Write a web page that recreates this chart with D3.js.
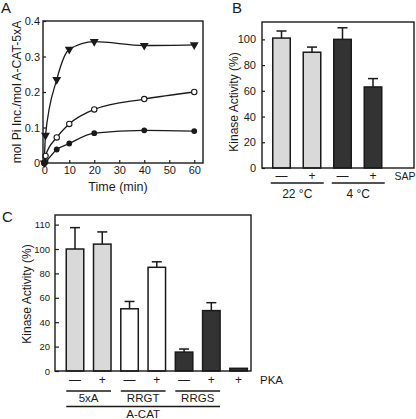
<!DOCTYPE html>
<html><head><meta charset="utf-8">
<script src="https://cdn.jsdelivr.net/npm/d3@7"></script>
<style>
html,body{margin:0;padding:0;background:#fff;}
svg{display:block;font-family:"Liberation Sans",Arial,Helvetica,sans-serif;}
</style></head>
<body>
<script>
// ---------- Panel A data ----------
const timeMin = [0, 0.5, 5, 10, 20, 40, 60];
const seriesTriangle = [0, 0.078, 0.235, 0.32, 0.342, 0.331, 0.333];
const seriesOpen = [0, 0.02, 0.072, 0.11, 0.151, 0.18, 0.2];
const seriesFilled = [0, 0.003, 0.038, 0.055, 0.084, 0.092, 0.09];
const aXTicks = [0, 10, 20, 30, 40, 50, 60];
const aYTicks = [0, 0.1, 0.2, 0.3, 0.4];
const aYTickLabels = ["0", "0.1", "0.2", "0.3", "0.4"];

// ---------- Panel B data ----------
const bCats = ["22-", "22+", "4-", "4+"];
const bValues = [101, 90, 100, 63];
const bErrors = [5.5, 4, 9, 6.5];
const bSigns = ["—", "+", "—", "+"];
const bGroups = ["22 °C", "4 °C"];
const bYTicks = [0, 20, 40, 60, 80, 100];

// ---------- Panel C data ----------
const cCats = ["5xA-", "5xA+", "RRGT-", "RRGT+", "RRGS-", "RRGS+", "none+"];
const cValues = [100, 104, 51, 85, 15.5, 49.5, 2.2];
const cErrors = [17.5, 10, 6, 4.5, 2.5, 6.5, 0];
const cSigns = ["—", "+", "—", "+", "—", "+", "+"];
const cGroups = ["5xA", "RRGT", "RRGS"];
const cYTicks = [0, 20, 40, 60, 80, 100, 120];
const cYTickLabels = ["0", "20", "40", "60", "80", "100", "110"];

const light = "#d9d9d9", dark = "#333333", ink = "#1a1a1a";

const svg = d3.select("body").append("svg").attr("width", 416).attr("height", 419);

function styleAxis(g, fs) {
  g.select(".domain").remove();
  g.selectAll(".tick line").attr("stroke", ink).attr("stroke-width", 1.2);
  g.selectAll(".tick text").attr("fill", ink).style("font-size", fs + "px").attr("font-family", null);
}

// ================= Panel A =================
{
  const L = 43, R = 203, T = 21, B = 163;
  const x = d3.scaleLinear().domain([-0.5, 63.5]).range([L, R]);
  const y = d3.scaleLinear().domain([0, 0.4]).range([B, T]);
  svg.append("text").text("A").attr("x", 1).attr("y", 13).style("font-size", "15px").attr("fill", ink);

  const gy = svg.append("g").attr("transform", `translate(${L},0)`)
    .call(d3.axisLeft(y).tickValues(aYTicks).tickSize(-3).tickPadding(3).tickFormat((d, i) => aYTickLabels[i]));
  styleAxis(gy, 11);
  const gx = svg.append("g").attr("transform", `translate(0,${B})`)
    .call(d3.axisBottom(x).tickValues(aXTicks).tickSize(-3).tickPadding(3));
  styleAxis(gx, 11);

  const line = d3.line().x((d, i) => x(timeMin[i])).y(d => y(d)).curve(d3.curveMonotoneX);
  [seriesTriangle, seriesOpen, seriesFilled].forEach(s => {
    svg.append("path").attr("d", line(s)).attr("fill", "none").attr("stroke", ink).attr("stroke-width", 1.3);
  });
  const tri = d3.symbol().type(d3.symbolTriangle).size(34);
  svg.selectAll(".tri").data(seriesTriangle).join("path")
    .attr("d", tri).attr("fill", ink)
    .attr("transform", (d, i) => `translate(${x(timeMin[i])},${y(d)}) rotate(180)`);
  svg.selectAll(".oc").data(seriesOpen).join("circle")
    .attr("cx", (d, i) => x(timeMin[i])).attr("cy", d => y(d)).attr("r", 2.7)
    .attr("fill", "#fff").attr("stroke", ink).attr("stroke-width", 1.1);
  svg.selectAll(".fc").data(seriesFilled).join("circle")
    .attr("cx", (d, i) => x(timeMin[i])).attr("cy", d => y(d)).attr("r", 2.9)
    .attr("fill", ink);

  svg.append("rect").attr("x", L).attr("y", T).attr("width", R - L).attr("height", B - T)
    .attr("fill", "none").attr("stroke", ink).attr("stroke-width", 1.4);

  svg.append("text").text("Time (min)").attr("x", 118).attr("y", 191)
    .attr("text-anchor", "middle").style("font-size", "12.5px").attr("fill", ink);
  svg.append("text").text("mol Pi Inc./mol A-CAT-5xA")
    .attr("transform", `translate(21,92) rotate(-90)`)
    .attr("text-anchor", "middle").style("font-size", "12.2px").attr("fill", ink);
}

// ================= Panel B =================
{
  const L = 262, R = 414, T = 22, B = 168;
  const x = d3.scalePoint().domain(bCats).range([281.5, 373]);
  const bw = 17.5;
  const y = d3.scaleLinear().domain([0, 113.5]).range([B, T]);
  svg.append("text").text("B").attr("x", 232).attr("y", 13).style("font-size", "15px").attr("fill", ink);

  const gy = svg.append("g").attr("transform", `translate(${L},0)`)
    .call(d3.axisLeft(y).tickValues(bYTicks).tickSize(-3).tickPadding(6));
  styleAxis(gy, 11);

  const cols = [light, light, dark, dark];
  bCats.forEach((c, i) => {
    const cx = x(c), top = y(bValues[i]), et = y(bValues[i] + bErrors[i]);
    svg.append("line").attr("x1", cx).attr("x2", cx).attr("y1", top).attr("y2", et)
      .attr("stroke", ink).attr("stroke-width", 1.5);
    svg.append("line").attr("x1", cx - 5).attr("x2", cx + 5).attr("y1", et).attr("y2", et)
      .attr("stroke", ink).attr("stroke-width", 1.5);
    svg.append("rect").attr("x", cx - bw / 2).attr("y", top).attr("width", bw).attr("height", y(0) - top)
      .attr("fill", cols[i]).attr("stroke", ink).attr("stroke-width", 1.5);
  });
  svg.append("rect").attr("x", L).attr("y", T).attr("width", R - L).attr("height", B - T)
    .attr("fill", "none").attr("stroke", ink).attr("stroke-width", 1.4);

  bCats.forEach((c, i) => {
    svg.append("text").text(bSigns[i]).attr("x", x(c)).attr("y", 179.5)
      .attr("text-anchor", "middle").style("font-size", "12px").attr("fill", ink);
  });
  svg.append("text").text("SAP").attr("x", 415.5).attr("y", 179.5).attr("text-anchor", "end")
    .style("font-size", "10.5px").attr("fill", ink);
  bGroups.forEach((g, k) => {
    const a = x(bCats[2 * k]) - bw / 2 - 2, b = x(bCats[2 * k + 1]) + bw / 2 + 3;
    svg.append("line").attr("x1", a).attr("x2", b).attr("y1", 183).attr("y2", 183)
      .attr("stroke", ink).attr("stroke-width", 1.3);
    svg.append("text").text(g).attr("x", (a + b) / 2).attr("y", 197.5)
      .attr("text-anchor", "middle").style("font-size", "12px").attr("fill", ink);
  });
  svg.append("text").text("Kinase Activity (%)")
    .attr("transform", `translate(238,102) rotate(-90)`)
    .attr("text-anchor", "middle").style("font-size", "12px").attr("fill", ink);
}

// ================= Panel C =================
{
  const L = 55, R = 251, T = 215, B = 371;
  const x = d3.scalePoint().domain(cCats).range([75, 238.6]);
  const bw = 17.5;
  const y = d3.scaleLinear().domain([0, 20]).range([B, B - 24.4]);
  svg.append("text").text("C").attr("x", 2).attr("y", 222).style("font-size", "15px").attr("fill", ink);

  const gy = svg.append("g").attr("transform", `translate(${L},0)`)
    .call(d3.axisLeft(y).tickValues(cYTicks).tickSize(-4).tickPadding(5).tickFormat((d, i) => cYTickLabels[i]));
  styleAxis(gy, 9.5);

  const cols = [light, light, "#fff", "#fff", dark, dark, dark];
  cCats.forEach((c, i) => {
    const cx = x(c), top = y(cValues[i]);
    if (cErrors[i] > 0) {
      const et = y(cValues[i] + cErrors[i]);
      svg.append("line").attr("x1", cx).attr("x2", cx).attr("y1", top).attr("y2", et)
        .attr("stroke", ink).attr("stroke-width", 1.5);
      svg.append("line").attr("x1", cx - 5).attr("x2", cx + 5).attr("y1", et).attr("y2", et)
        .attr("stroke", ink).attr("stroke-width", 1.5);
    }
    svg.append("rect").attr("x", cx - bw / 2).attr("y", top).attr("width", bw).attr("height", y(0) - top)
      .attr("fill", cols[i]).attr("stroke", ink).attr("stroke-width", 1.5);
  });
  svg.append("rect").attr("x", L).attr("y", T).attr("width", R - L).attr("height", B - T)
    .attr("fill", "none").attr("stroke", ink).attr("stroke-width", 1.4);

  cCats.forEach((c, i) => {
    svg.append("text").text(cSigns[i]).attr("x", x(c)).attr("y", 383.5)
      .attr("text-anchor", "middle").style("font-size", "12px").attr("fill", ink);
  });
  svg.append("text").text("PKA").attr("x", 260).attr("y", 383.5).style("font-size", "11.5px").attr("fill", ink);
  cGroups.forEach((g, k) => {
    const a = x(cCats[2 * k]) - bw / 2, b = x(cCats[2 * k + 1]) + bw / 2;
    svg.append("line").attr("x1", a).attr("x2", b).attr("y1", 391).attr("y2", 391)
      .attr("stroke", ink).attr("stroke-width", 1.3);
    svg.append("text").text(g).attr("x", (a + b) / 2).attr("y", 401.5)
      .attr("text-anchor", "middle").style("font-size", "11.5px").attr("fill", ink);
  });
  const a0 = x(cCats[0]) - bw / 2, a1 = x(cCats[5]) + bw / 2;
  svg.append("line").attr("x1", a0).attr("x2", a1).attr("y1", 406.5).attr("y2", 406.5)
    .attr("stroke", ink).attr("stroke-width", 1.3);
  svg.append("text").text("A-CAT").attr("x", (a0 + a1) / 2).attr("y", 418)
    .attr("text-anchor", "middle").style("font-size", "11.5px").attr("fill", ink);
  svg.append("text").text("Kinase Activity (%)")
    .attr("transform", `translate(31,294) rotate(-90)`)
    .attr("text-anchor", "middle").style("font-size", "12px").attr("fill", ink);
}
</script>
</body></html>
